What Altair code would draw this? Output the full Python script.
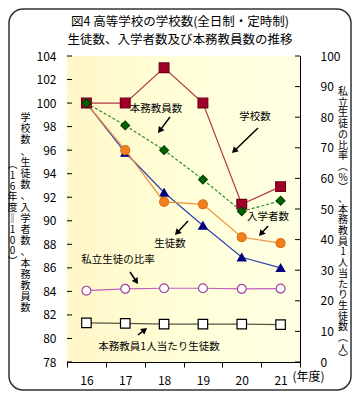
import math
import altair as alt
import pandas as pd

# ---- data ----
years = ["16", "17", "18", "19", "20", "21"]
schools = [100, 100, 103.0, 100, 91.4, 92.9]
teachers = [100, 98.1, 96.0, 93.5, 90.8, 91.7]
students = [100, 95.8, 92.4, 89.6, 86.9, 86.0]
entrants = [100, 96.0, 91.6, 91.4, 88.6, 88.1]
private_ratio = [23.3, 23.9, 24.1, 24.1, 23.9, 24.0]
per_teacher = [12.8, 12.6, 12.4, 12.4, 12.4, 12.2]

left_ticks = list(range(78, 105, 2))
right_ticks = list(range(0, 101, 10))

title_lines = ["図4 高等学校の学校数(全日制・定時制)", "生徒数、入学者数及び本務教員数の推移"]
left_title_a = "︵16年度‖100︶"
left_title_b = "学校数、生徒数、入学者数、本務教員数"
right_title = "私立生徒の比率︵%︶、本務教員1人当たり生徒数︵人︶"
x_unit = "(年度)"

FONT = "Noto Sans CJK JP"
W, H = 233, 306

xs = alt.X("year:N", sort=years, scale=alt.Scale(paddingInner=0, paddingOuter=0),
           axis=alt.Axis(title=None, labelAngle=0, tickBand="extent", tickSize=5,
                         tickColor="black", domainColor="black", labelPadding=8,
                         labelFont=FONT, labelFontSize=12, labelColor="black"))

yl_scale = alt.Scale(domain=[78, 104], nice=False, zero=False)
yr_scale = alt.Scale(domain=[0, 100], nice=False, zero=True)

yl_axis = alt.Axis(title=None, values=left_ticks, ticks=False, labelPadding=11,
                   domainColor="black", labelFont=FONT, labelFontSize=12,
                   labelColor="black", grid=False)
yr_axis = alt.Axis(title=None, values=right_ticks, ticks=False, labelPadding=20,
                   orient="right", domainColor="black", labelFont=FONT,
                   labelFontSize=12, labelColor="black", grid=False)


def series_df(vals):
    return pd.DataFrame({"year": years, "value": vals})


def one():
    return alt.Data(values=[{}])


def series(vals, scale, axis, line_color, shape, size, fill, stroke, dash=None, sw=1.2):
    df = series_df(vals)
    y = alt.Y("value:Q", scale=scale, axis=axis)
    lk = dict(color=line_color, strokeWidth=sw)
    if dash:
        lk["strokeDash"] = dash
    line = alt.Chart(df).mark_line(**lk).encode(x=xs, y=y)
    pts = alt.Chart(df).mark_point(shape=shape, size=size, filled=True, fill=fill,
                                   stroke=stroke, strokeWidth=1.2, opacity=1).encode(x=xs, y=y)
    return [line, pts]


# background gradient
bg = alt.Chart(one()).mark_rect(
    color=alt.LinearGradient(gradient="linear",
                             stops=[alt.GradientStop(color="#FFF6C8", offset=0),
                                    alt.GradientStop(color="#FFFFD8", offset=0.5),
                                    alt.GradientStop(color="#FFFFE4", offset=1)],
                             x1=0, x2=1, y1=0, y2=0)
).encode(x=alt.value(0), x2=alt.value(W), y=alt.value(0), y2=alt.value(H))

frame = alt.Chart(one()).mark_rect(fill=None, stroke="#333333", strokeWidth=1.5,
                                   cornerRadius=14).encode(
    x=alt.value(-58), x2=alt.value(284), y=alt.value(-47), y2=alt.value(334))

# inner ticks
lt = alt.Chart(pd.DataFrame({"v": left_ticks})).mark_rule(color="black").encode(
    y=alt.Y("v:Q", scale=yl_scale, axis=yl_axis), x=alt.value(0), x2=alt.value(5))
rt = alt.Chart(pd.DataFrame({"v": right_ticks})).mark_rule(color="black").encode(
    y=alt.Y("v:Q", scale=yr_scale, axis=yr_axis), x=alt.value(W - 5), x2=alt.value(W))

left_layers = [bg, lt]
left_layers += series(students, yl_scale, yl_axis, "#3040B0", "triangle-up", 70, "#000080", "#000080")
left_layers += series(entrants, yl_scale, yl_axis, "#F0903A", "circle", 80, "#F08020", "#E07010")
left_layers += series(schools, yl_scale, yl_axis, "#B03848", "square", 95, "#A0002A", "#700018")
left_layers += series(teachers, yl_scale, yl_axis, "#2E8B2E", "diamond", 75, "#006400", "#004000", dash=[3, 2])

right_layers = [rt]
right_layers += series(private_ratio, yr_scale, yr_axis, "#C060C0", "circle", 80, "white", "#A040A0")
right_layers += series(per_teacher, yr_scale, yr_axis, "#555544", "square", 90, "white", "black")

left_group = alt.layer(*left_layers)
right_group = alt.layer(*right_layers)

# annotations
texts = []


def txt(s, x, y, size=10.5, **kw):
    return alt.Chart(one()).mark_text(font=FONT, fontSize=size, color="black", **kw).encode(
        x=alt.value(x), y=alt.value(y), text=alt.value(s))


annots = [
    ("本務教員数", 89, 53, (103, 61, 91, 77)),
    ("学校数", 188, 61, (191, 72, 165, 97)),
    ("入学者数", 201, 161, (201, 170, 192, 180)),
    ("生徒数", 103, 188, (121, 165, 108, 179)),
    ("私立生徒の比率", 51, 204, (63, 216, 71, 228)),
    ("本務教員1人当たり生徒数", 92, 291, (71, 279, 80, 272)),
]
for s, tx, ty, (x1, y1, x2, y2) in annots:
    texts.append(txt(s, tx, ty))
    dx, dy = x2 - x1, y2 - y1
    L = math.hypot(dx, dy)
    ux, uy = dx / L, dy / L
    hx, hy = x2 - 3 * ux, y2 - 3 * uy
    ang = math.degrees(math.atan2(dx, -dy)) % 360
    texts.append(alt.Chart(one()).mark_rule(color="black", strokeWidth=1.5).encode(
        x=alt.value(x1), y=alt.value(y1), x2=alt.value(hx), y2=alt.value(hy)))
    texts.append(alt.Chart(one()).mark_point(shape="triangle-up", filled=True, color="black",
                                             size=50, angle=ang, opacity=1).encode(
        x=alt.value(hx), y=alt.value(hy)))

texts.append(txt(title_lines[0], 113, -34, size=12.5))
texts.append(txt(title_lines[1], 113, -16, size=12.5))
texts.append(txt("\n".join(left_title_a), -54.5, 104, size=10, lineBreak="\n",
                 lineHeight=10.8, baseline="top"))
texts.append(txt("\n".join(left_title_b), -41.5, 57, size=10, lineBreak="\n",
                 lineHeight=11.2, baseline="top"))
texts.append(txt("\n".join(right_title), 276, 31, size=10, lineBreak="\n",
                 lineHeight=10.7, baseline="top"))
texts.append(txt(x_unit, 241.5, 321, size=12))

chart = alt.layer(frame, left_group, right_group, *texts).resolve_scale(
    y="independent"
).properties(
    width=W, height=H,
    autosize=alt.AutoSizeParams(type="none"),
    padding={"left": 59, "top": 48, "right": 52, "bottom": 29},
    background="white",
).configure_view(stroke="black", strokeWidth=1)

chart.save("out.html", embed_options={"renderer": "svg", "actions": False})
